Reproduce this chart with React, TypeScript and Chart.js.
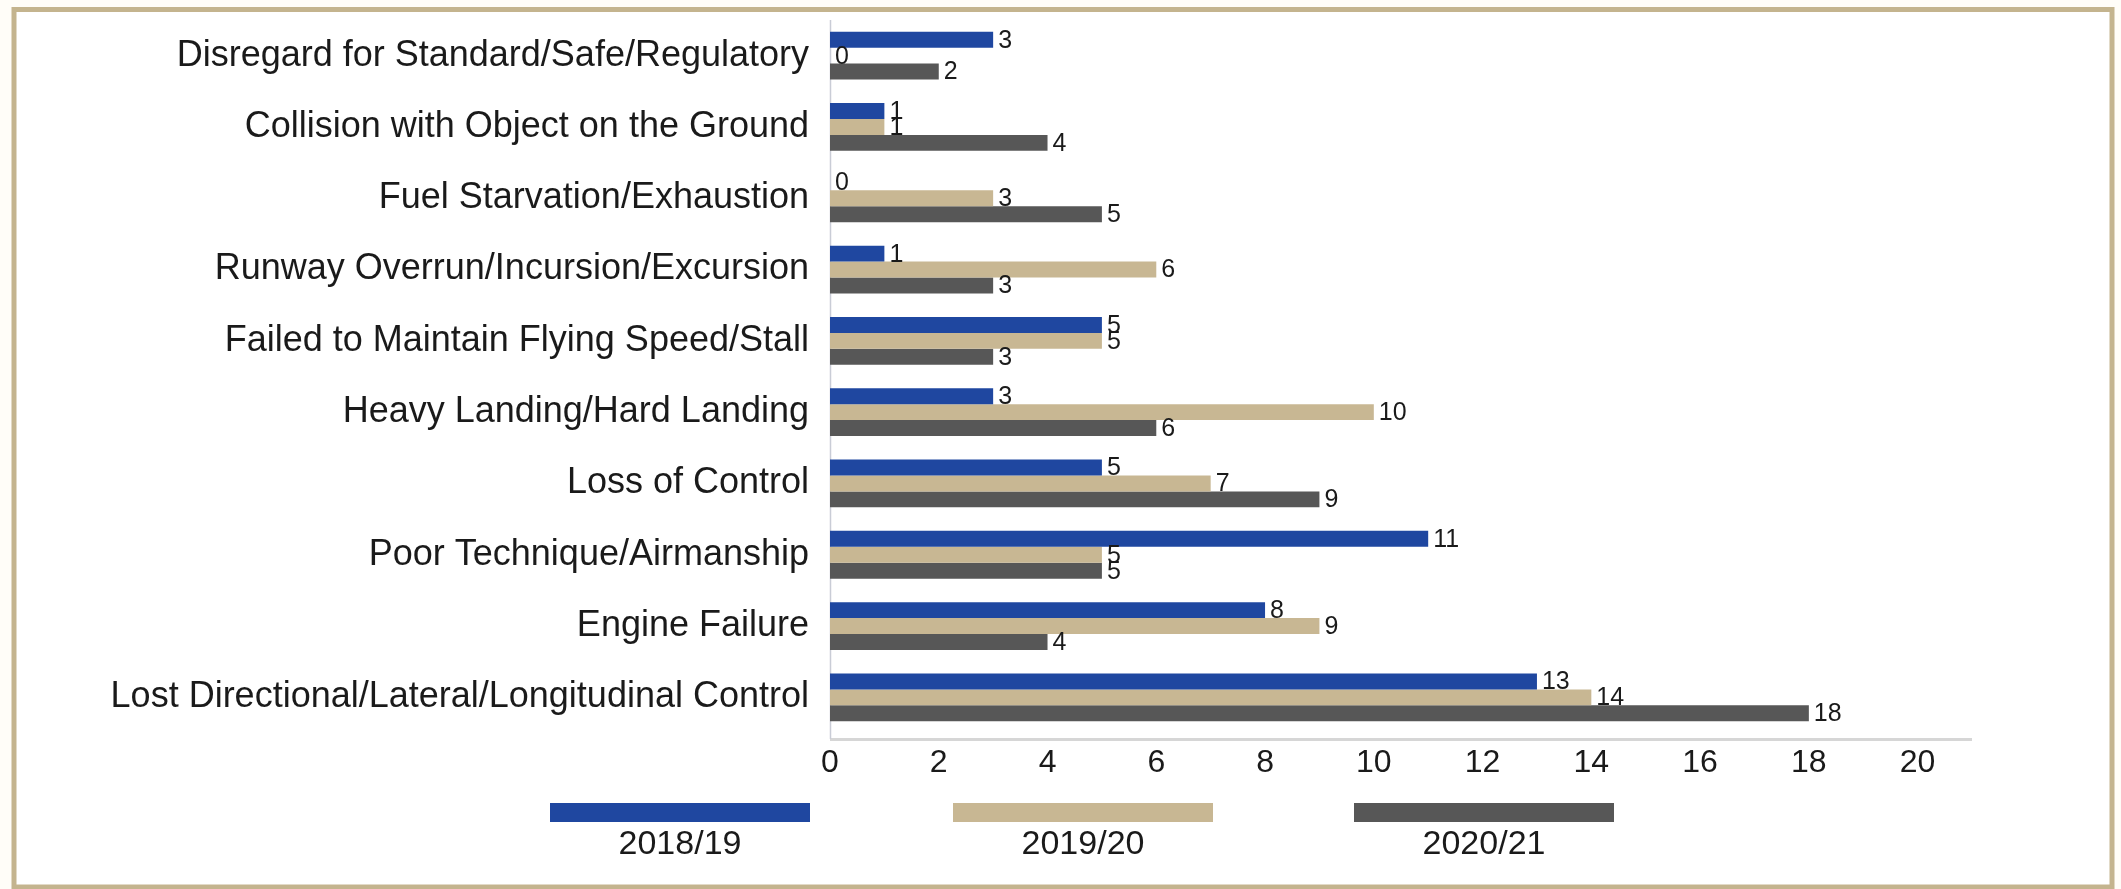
import { useEffect, useRef } from "react";
import { Chart, registerables } from "chart.js";

Chart.register(...registerables);

const categories = [
  "Disregard for Standard/Safe/Regulatory",
  "Collision with Object on the Ground",
  "Fuel Starvation/Exhaustion",
  "Runway Overrun/Incursion/Excursion",
  "Failed to Maintain Flying Speed/Stall",
  "Heavy Landing/Hard Landing",
  "Loss of Control",
  "Poor Technique/Airmanship",
  "Engine Failure",
  "Lost Directional/Lateral/Longitudinal Control",
];

const values2018 = [3, 1, 0, 1, 5, 3, 5, 11, 8, 13];
const values2019 = [0, 1, 3, 6, 5, 10, 7, 5, 9, 14];
const values2020 = [2, 4, 5, 3, 3, 6, 9, 5, 4, 18];

const seriesNames = ["2018/19", "2019/20", "2020/21"];
const seriesColors = ["#1f47a0", "#c8b793", "#575757"];

const xTickValues = [0, 2, 4, 6, 8, 10, 12, 14, 16, 18, 20];

const FONT = "'Liberation Sans', Arial, Helvetica, sans-serif";
const W = 2121;
const H = 889;
const AXIS_GAP = 6;

const framePlugin = {
  id: "frame",
  beforeDraw(chart: any) {
    const ctx = chart.ctx;
    ctx.save();
    ctx.fillStyle = "#fffdf8";
    ctx.fillRect(0, 0, W, H);
    ctx.fillStyle = "#ffffff";
    ctx.fillRect(14, 9.5, 2112 - 14, 887 - 9.5);
    ctx.strokeStyle = "#c4b48e";
    ctx.lineWidth = 5;
    ctx.strokeRect(14, 9.5, 2112 - 14, 887 - 9.5);
    ctx.restore();
  },
};

const axisLinesPlugin = {
  id: "axisLines",
  beforeDatasetsDraw(chart: any) {
    const ctx = chart.ctx;
    const a = chart.chartArea;
    ctx.save();
    ctx.strokeStyle = "#d6d6d6";
    ctx.lineWidth = 3;
    ctx.beginPath();
    ctx.moveTo(a.left, a.bottom + AXIS_GAP + 0.5);
    ctx.lineTo(a.right, a.bottom + AXIS_GAP + 0.5);
    ctx.stroke();
    ctx.strokeStyle = "#c9ccd6";
    ctx.lineWidth = 1.5;
    ctx.beginPath();
    ctx.moveTo(a.left + 0.5, a.top);
    ctx.lineTo(a.left + 0.5, a.bottom + AXIS_GAP);
    ctx.stroke();
    ctx.restore();
  },
};

const valueLabelPlugin = {
  id: "valueLabels",
  afterDatasetsDraw(chart: any) {
    const ctx = chart.ctx;
    ctx.save();
    ctx.font = `25px ${FONT}`;
    ctx.fillStyle = "#1a1a1a";
    ctx.textAlign = "left";
    ctx.textBaseline = "middle";
    chart.data.datasets.forEach((ds: any, i: number) => {
      const meta = chart.getDatasetMeta(i);
      meta.data.forEach((el: any, j: number) => {
        const v = ds.data[j];
        ctx.fillText(String(v), el.x + 5, el.y + 1);
      });
    });
    ctx.restore();
  },
};

const bottomLegendPlugin = {
  id: "bottomLegend",
  afterDraw(chart: any) {
    const ctx = chart.ctx;
    const centers = [680, 1083, 1484];
    const boxW = 260;
    const boxH = 19;
    const boxTop = 803;
    const textY = 845;
    ctx.save();
    ctx.font = `34px ${FONT}`;
    ctx.textAlign = "center";
    ctx.textBaseline = "middle";
    chart.data.datasets.forEach((ds: any, i: number) => {
      const cx = centers[i];
      ctx.fillStyle = ds.backgroundColor;
      ctx.fillRect(cx - boxW / 2, boxTop, boxW, boxH);
      ctx.fillStyle = "#1a1a1a";
      ctx.fillText(ds.label, cx, textY);
    });
    ctx.restore();
  },
};

export default function App() {
  const canvasRef = useRef<HTMLCanvasElement | null>(null);

  useEffect(() => {
    const canvas = canvasRef.current;
    if (!canvas) return;
    const seriesValues = [values2018, values2019, values2020];
    const chart = new Chart(canvas, {
      type: "bar",
      data: {
        labels: categories,
        datasets: seriesNames.map((name, i) => ({
          label: name,
          data: seriesValues[i],
          backgroundColor: seriesColors[i],
          borderWidth: 0,
          barPercentage: 1,
          categoryPercentage: 0.67,
        })),
      },
      options: {
        indexAxis: "y",
        responsive: false,
        maintainAspectRatio: false,
        animation: false,
        devicePixelRatio: 1,
        layout: {
          padding: { top: 20, right: W - 1972, left: 0, bottom: 106 },
        },
        plugins: {
          legend: { display: false },
          tooltip: { enabled: false },
          title: { display: false },
        },
        scales: {
          x: {
            type: "linear",
            min: 0,
            max: 21,
            grid: { display: false, drawTicks: false },
            border: { display: false },
            afterBuildTicks: (scale: any) => {
              scale.ticks = xTickValues.map((v) => ({ value: v }));
            },
            afterFit: (scale: any) => {
              scale.height = 50;
              scale.paddingLeft = 0;
              scale.paddingRight = 0;
            },
            ticks: {
              color: "#1a1a1a",
              font: { family: FONT, size: 32 },
              padding: 11,
              maxRotation: 0,
              autoSkip: false,
            },
          },
          y: {
            type: "category",
            grid: { display: false, drawTicks: false },
            border: { display: false },
            afterFit: (scale: any) => {
              scale.width = 830;
              scale.paddingTop = 0;
              scale.paddingBottom = 0;
            },
            ticks: {
              color: "#1a1a1a",
              font: { family: FONT, size: 36 },
              padding: 21,
              autoSkip: false,
            },
          },
        },
      },
      plugins: [framePlugin, axisLinesPlugin, valueLabelPlugin, bottomLegendPlugin],
    } as any);
    return () => chart.destroy();
  }, []);

  return (
    <div style={{ position: "absolute", left: 0, top: 0, width: W, height: H }}>
      <canvas ref={canvasRef} width={W} height={H} style={{ width: W, height: H, display: "block" }} />
    </div>
  );
}
